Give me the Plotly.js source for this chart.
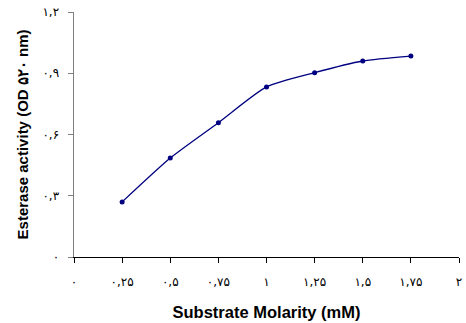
<!DOCTYPE html>
<html><head><meta charset="utf-8">
<script src="https://cdn.plot.ly/plotly-3.0.1.min.js"></script>
<style>html,body{margin:0;padding:0;background:#fff}#c{width:466px;height:323px}</style>
</head><body><div id="c"></div>
<script>
var molarity = [0.25, 0.5, 0.75, 1.0, 1.25, 1.5, 1.75];
var activity = [0.27, 0.485, 0.658, 0.833, 0.903, 0.96, 0.984];
var xTickVals = [0, 0.25, 0.5, 0.75, 1, 1.25, 1.5, 1.75, 2];
var xTickText = ['۰', '۰,۲۵', '۰,۵', '۰,۷۵', '۱', '۱,۲۵', '۱,۵', '۱,۷۵', '۲'];
var yTickVals = [0, 0.3, 0.6, 0.9, 1.2];
var yTickText = ['۰', '۰,۳', '۰,۶', '۰,۹', '۱,۲'];

var trace = {
  x: molarity, y: activity, type: 'scatter', mode: 'lines+markers',
  line: {color: '#000080', width: 1.3, shape: 'spline', smoothing: 0.6},
  marker: {color: '#000080', size: 5}
};
var tickFont = {family: 'DejaVu Sans, sans-serif', size: 12, color: '#000'};
var layout = {
  width: 466, height: 323,
  margin: {l: 74, r: 7, t: 12, b: 66},
  paper_bgcolor: '#fff', plot_bgcolor: '#fff',
  showlegend: false,
  font: {family: 'Liberation Sans, Arial, sans-serif', color: '#000'},
  xaxis: {
    range: [0, 2], tickvals: xTickVals, ticktext: xTickText,
    showgrid: false, zeroline: false, showline: true, linecolor: '#000', linewidth: 1,
    ticks: 'outside', ticklen: 5, tickcolor: '#000', tickfont: tickFont,
    ticklabelstandoff: 9,
    title: {text: '<b>Substrate Molarity (mM)</b>', font: {size: 16.5}, standoff: 18}
  },
  yaxis: {
    range: [0, 1.2], tickvals: yTickVals, ticktext: yTickText,
    showgrid: false, zeroline: false, showline: true, linecolor: '#808080', linewidth: 1.5,
    ticks: 'outside', ticklen: 5, tickcolor: '#808080', tickfont: tickFont,
    ticklabelstandoff: 6,
    title: {text: '<b>Esterase activity (OD ۵۲۰ nm)</b>', font: {size: 15}, standoff: 10}
  }
};
Plotly.newPlot('c', [trace], layout, {staticPlot: true, displayModeBar: false});
</script></body></html>
